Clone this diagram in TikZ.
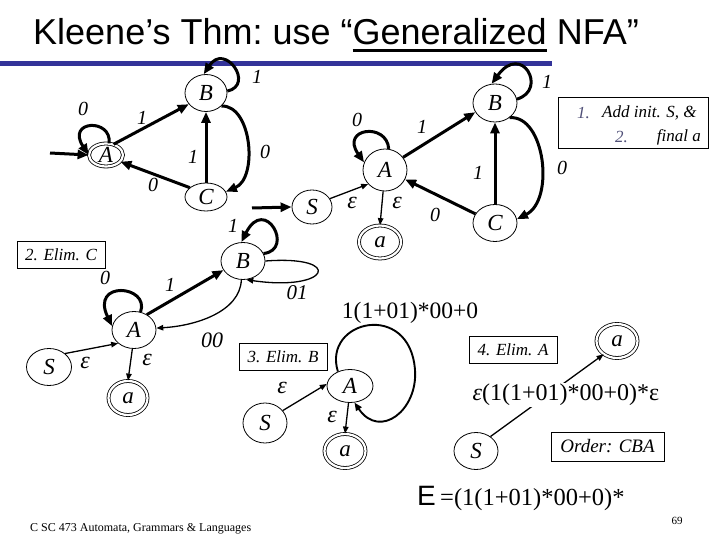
\documentclass[tikz,border=0pt]{standalone}
\usepackage{fontspec}
\setmainfont{Liberation Serif}
\newfontfamily\arialf{Liberation Sans}
\usetikzlibrary{shapes.geometric,arrows.meta}
\definecolor{titleblue}{RGB}{51,51,153}
\definecolor{numgray}{RGB}{80,80,120}
\newcommand\ulword[1]{\vtop{\hbox{#1}\kern3.3pt\hrule height 3pt}}
\begin{document}
\begin{tikzpicture}[x=1pt,y=-1pt,
  st/.style={ellipse, draw, line width=0.8pt, inner sep=0pt, font=\fontsize{23}{23}\selectfont\itshape},
  acc/.style={st, double, double distance=2.2pt},
  thk/.style={line width=3pt, -{Triangle[length=11pt,width=9pt]}},
  thn/.style={line width=1.3pt, -{Triangle[length=7pt,width=5.5pt]}},
  mid/.style={line width=1.9pt, -{Triangle[length=8pt,width=6.5pt]}},
  lab/.style={font=\fontsize{20}{20}\selectfont\itshape, inner sep=0pt},
  eps/.style={font=\fontsize{24}{24}\selectfont\itshape, inner sep=0pt},
  boxst/.style={draw, line width=0.8pt, inner sep=0pt},
  boxtxt/.style={font=\fontsize{17}{17}\selectfont\itshape, inner sep=0pt},
]
\useasboundingbox (0,0) rectangle (720,540);
% title
\node[anchor=base west, inner sep=0pt, font=\arialf\fontsize{36}{36}\selectfont] (title) at (33,45) {\frenchspacing Kleene’s Thm: use “\ulword{Generalized} NFA”};
\fill[titleblue] (0,61) rectangle (552,66);

% ---------- diagram 1 ----------
\node[acc, minimum width=34pt, minimum height=23pt] (A1) at (106,155) {A};
\node[st, minimum width=42pt, minimum height=37pt] (B1) at (206,93) {B};
\node[st, minimum width=42pt, minimum height=28pt] (C1) at (206,197) {C};
\coordinate (s1) at (50,153);
\draw[thk] (s1) -- (A1.west);
\draw[thk] (A1.75) .. controls (112,118) and (66,120) .. (A1.180);
\draw[thk] (A1.55) -- (B1.213);
\draw[thk] (C1.north) -- (B1.south);
\draw[thk] (B1.-40) .. controls (252,105) and (258,178) .. (C1.15);
\draw[thk] (C1.150) -- (A1.-25);
\draw[thk] (B1.5) .. controls (255,85) and (225,42) .. (B1.97);
\node[lab] (l1a) at (83,109) {0};
\node[lab] (l1b) at (142,118) {1};
\node[lab] (l1c) at (193,157) {1};
\node[lab] (l1d) at (265,152) {0};
\node[lab] (l1e) at (153,185) {0};
\node[lab] (l1f) at (257,77) {1};

% ---------- diagram 2 ----------
\node[st, minimum width=44pt, minimum height=42pt] (A2) at (385,170) {A};
\node[st, minimum width=44pt, minimum height=38pt] (B2) at (495,103) {B};
\node[st, minimum width=44pt, minimum height=37pt] (C2) at (495,223) {C};
\node[st, minimum width=40pt, minimum height=34pt] (S2) at (312,207) {S};
\node[acc, minimum width=42pt, minimum height=33pt] (a2) at (380,242) {a};
\coordinate (s2) at (252,208);
\draw[thk] (s2) -- (S2.west);
\draw[thn] (S2.25) -- (A2.220);
\draw[thn] (A2.265) -- (a2.north);
\draw[thk] (A2.80) .. controls (387,122) and (340,128) .. (A2.160);
\draw[thk] (A2.35) -- (B2.205);
\draw[thk] (C2.north) -- (B2.south);
\draw[thk] (B2.-45) .. controls (545,115) and (555,200) .. (C2.10);
\draw[thk] (C2.155) -- (A2.-25);
\draw[thk] (B2.10) .. controls (548,90) and (522,42) .. (B2.100);
\node[lab] (l2a) at (357,120) {0};
\node[lab] (l2b) at (422,127) {1};
\node[lab] (l2c) at (478,173) {1};
\node[lab] (l2d) at (562,168) {0};
\node[lab] (l2e) at (435,215) {0};
\node[lab] (l2f) at (547,82) {1};
\node[eps] (e2a) at (352,203) {ε};
\node[eps] (e2b) at (397,203) {ε};
\node[boxst, minimum width=150pt, minimum height=51pt] (box1) at (633,122.5) {};
\node[boxtxt, anchor=west, text=numgray] (n1) at (577,113) {1.};
\node[boxtxt, anchor=west] (t1) at (602,113) {Add init. S, \&};
\node[boxtxt, anchor=west, text=numgray] (n2) at (615,137) {2.};
\node[boxtxt, anchor=east] (t2) at (701,137) {final a};

% ---------- diagram 3 ----------
\node[boxst, minimum width=88pt, minimum height=27pt, boxtxt] (box2) at (61,254.5) {2. Elim. C};
\node[st, minimum width=44pt, minimum height=37pt] (B3) at (243,261) {B};
\node[st, minimum width=44pt, minimum height=37pt] (A3) at (134,330) {A};
\node[st, minimum width=45pt, minimum height=37pt] (S3) at (49,367) {S};
\node[acc, minimum width=39pt, minimum height=34pt] (a3) at (128,398) {a};
\draw[thk] (A3.70) .. controls (150,285) and (90,280) .. (A3.170);
\draw[thk] (A3.50) -- (B3.205);
\draw[thn] (B3.265) .. controls (240,312) and (195,326) .. (A3.5);
\draw[thn] (B3.0) .. controls (345,255) and (330,292) .. (B3.-80);
\draw[thk] (B3.20) .. controls (295,250) and (265,195) .. (B3.95);
\draw[thn] (S3.40) -- (A3.220);
\draw[thn] (A3.265) -- (a3.north);
\node[lab] (l3a) at (105,278) {0};
\node[lab] (l3b) at (170,285) {1};
\node[lab, font=\fontsize{22}{22}\selectfont\itshape] (l3c) at (212,340) {00};
\node[lab, font=\fontsize{21}{21}\selectfont\itshape] (l3d) at (297,293) {01};
\node[lab] (l3e) at (233,226) {1};
\node[eps] (e3a) at (85,363) {ε};
\node[eps] (e3b) at (147,360) {ε};

% ---------- diagram 4 ----------
\node[boxst, minimum width=88pt, minimum height=27pt, boxtxt] (box3) at (283,356.5) {3. Elim. B};
\node[st, minimum width=46pt, minimum height=33pt] (A4) at (350,386) {A};
\node[st, minimum width=44pt, minimum height=40pt] (S4) at (265,423) {S};
\node[acc, minimum width=41pt, minimum height=34pt] (a4) at (345,451) {a};
\draw[mid] (A4.130) .. controls (322,320) and (410,300) .. (415,370) .. controls (418,410) and (380,440) .. (A4.-75);
\draw[thn] (S4.35) -- (A4.175);
\draw[thn] (A4.265) -- (a4.north);
\node[inner sep=0pt, font=\fontsize{23.5}{23.5}\selectfont] (l4) at (410,313) {1(1+01)*00+0};
\node[eps] (e4a) at (282,388) {ε};
\node[eps] (e4b) at (332,417) {ε};

% ---------- diagram 5 ----------
\node[boxst, minimum width=88pt, minimum height=27pt, boxtxt] (box4) at (513,349.5) {4. Elim. A};
\node[acc, minimum width=41pt, minimum height=34pt] (a5) at (617,341) {a};
\node[st, minimum width=44pt, minimum height=37pt] (S5) at (476,451) {S};
\draw[thn] (S5.45) -- (a5.225);
\node[fill=white, inner sep=1pt, font=\fontsize{24}{24}\selectfont] (l5) at (566,395) {\textit{ε}(1(1+01)*00+0)*ε};
\node[boxst, minimum width=113pt, minimum height=29pt, font=\fontsize{19}{19}\selectfont\itshape] (box5) at (607.5,446.5) {Order: CBA};

% ---------- bottom ----------
\node[anchor=base west, inner sep=0pt, font=\arialf\fontsize{28}{28}\selectfont] (Eq) at (417,505) {E};
\node[anchor=base west, inner sep=0pt, font=\fontsize{24.5}{24.5}\selectfont] (Ef) at (440,505) {=(1(1+01)*00+0)*};
\node[anchor=base west, inner sep=0pt, font=\fontsize{12}{12}\selectfont] (foot) at (30,531) {C SC 473 Automata, Grammars \& Languages};
\node[inner sep=0pt, font=\fontsize{11}{11}\selectfont] (pg) at (677,521) {69};
\end{tikzpicture}
\end{document}
